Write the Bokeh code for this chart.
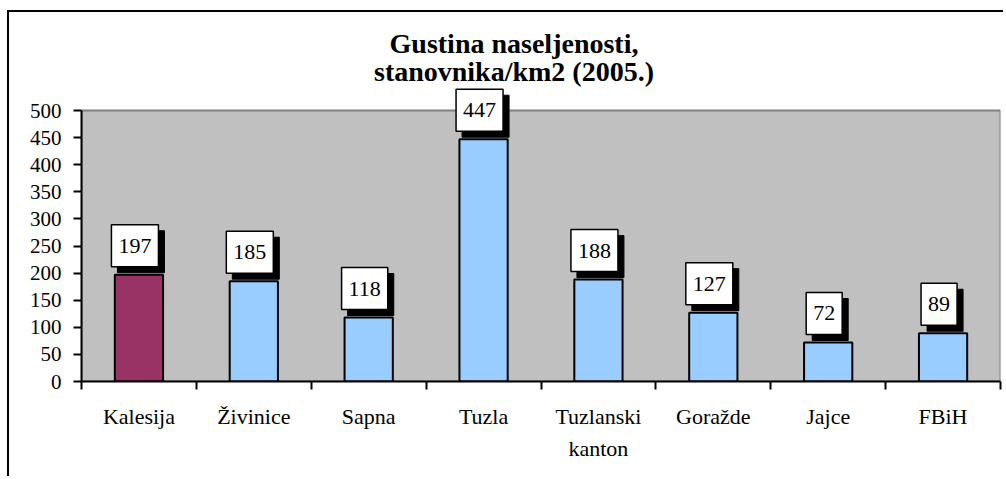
from bokeh.plotting import figure
from bokeh.models import (Range1d, LinearAxis, FixedTicker, Label, BoxAnnotation, ColumnDataSource)
from bokeh.embed import file_html
from bokeh.resources import INLINE

categories = ["Kalesija", "Živinice", "Sapna", "Tuzla", "Tuzlanski\nkanton", "Goražde", "Jajce", "FBiH"]
values = [197, 185, 118, 447, 188, 127, 72, 89]
colors = ["#993366", "#99CCFF", "#99CCFF", "#99CCFF", "#99CCFF", "#99CCFF", "#99CCFF", "#99CCFF"]
y_ticks = [0, 50, 100, 150, 200, 250, 300, 350, 400, 450, 500]
title_line1 = "Gustina naseljenosti,"
title_line2 = "stanovnika/km2 (2005.)"

FONT = "'Liberation Serif', 'Times New Roman', serif"
n = len(categories)
y_max = y_ticks[-1]
centers = [i + 0.5 for i in range(n)]

# layout (pixels): plot area spans 271 px for 0..500, frame extends 98 px above it
AREA_PX = 271
ABOVE_PX = 98
y_top = y_max * (AREA_PX + ABOVE_PX) / AREA_PX

p = figure(width=996, height=466, output_backend="svg", toolbar_location=None,
           x_range=Range1d(0, n), y_range=Range1d(0, y_top),
           x_axis_type=None, y_axis_type=None, title=None,
           min_border_left=72, min_border_right=5, min_border_top=0, min_border_bottom=97)
p.styles = {"margin-left": "7px", "margin-top": "10px",
            "border-left": "2px solid black", "border-top": "2px solid black"}

p.background_fill_color = "white"
p.border_fill_color = "white"
p.outline_line_color = None

# grey plot area with grey border
p.add_layout(BoxAnnotation(left=0, right=n, bottom=0, top=y_max, level="image",
                           fill_color="#C0C0C0", fill_alpha=1,
                           line_color="#808080", line_width=2, line_alpha=1))

# two-line title
for txt, dy in ((title_line1, 67), (title_line2, 39)):
    p.add_layout(Label(x=n / 2, y=y_max, x_offset=-27, y_offset=dy, text=txt,
                       text_align="center", text_baseline="alphabetic", text_font=FONT,
                       text_font_size="28px", text_font_style="bold", text_color="black"))

# y axis
yax = LinearAxis(ticker=FixedTicker(ticks=y_ticks), bounds=(0, y_max))
yax.axis_line_color = "black"
yax.axis_line_width = 2
yax.major_tick_in = 0
yax.major_tick_out = 8
yax.major_tick_line_color = "black"
yax.major_tick_line_width = 2
yax.minor_tick_line_color = None
yax.major_label_text_font = FONT
yax.major_label_text_font_size = "21px"
yax.major_label_text_color = "black"
yax.major_label_standoff = 12
p.add_layout(yax, "left")

# x axis: labels at category centres, ticks at boundaries
xax = LinearAxis(ticker=FixedTicker(ticks=centers, minor_ticks=list(range(n + 1))))
xax.axis_line_color = "black"
xax.axis_line_width = 2
xax.major_tick_in = 0
xax.major_tick_out = 0
xax.minor_tick_in = 0
xax.minor_tick_out = 8
xax.minor_tick_line_color = "black"
xax.minor_tick_line_width = 2
xax.major_label_overrides = {c: lab for c, lab in zip(centers, categories)}
xax.major_label_text_font = FONT
xax.major_label_text_font_size = "22px"
xax.major_label_text_color = "black"
xax.major_label_text_line_height = 1.3
xax.major_label_standoff = 14
p.add_layout(xax, "below")

p.ygrid.ticker = FixedTicker(ticks=y_ticks)
p.ygrid.grid_line_color = "black"
p.ygrid.grid_line_width = 1.5
p.xgrid.grid_line_color = None

src = ColumnDataSource(dict(x=centers, top=values, color=colors))
p.vbar(x="x", top="top", bottom=0, width=0.42, fill_color="color",
       line_color="black", line_width=2, source=src)

for x, v in zip(centers, values):
    txt = str(v)
    shadow = Label(x=x, y=v, x_offset=2, y_offset=23, text=txt, text_align="center",
                   text_baseline="middle", text_font=FONT, text_font_size="22px",
                   text_color="black", background_fill_color="black",
                   border_line_color="black", border_line_width=1, padding=(7, 14))
    box = Label(x=x, y=v, x_offset=-4, y_offset=29, text=txt, text_align="center",
                text_baseline="middle", text_font=FONT, text_font_size="22px",
                text_color="black", background_fill_color="white",
                border_line_color="black", border_line_width=1.5, padding=(7, 14))
    p.add_layout(shadow)
    p.add_layout(box)

open("out.html", "w").write(file_html(p, INLINE))
